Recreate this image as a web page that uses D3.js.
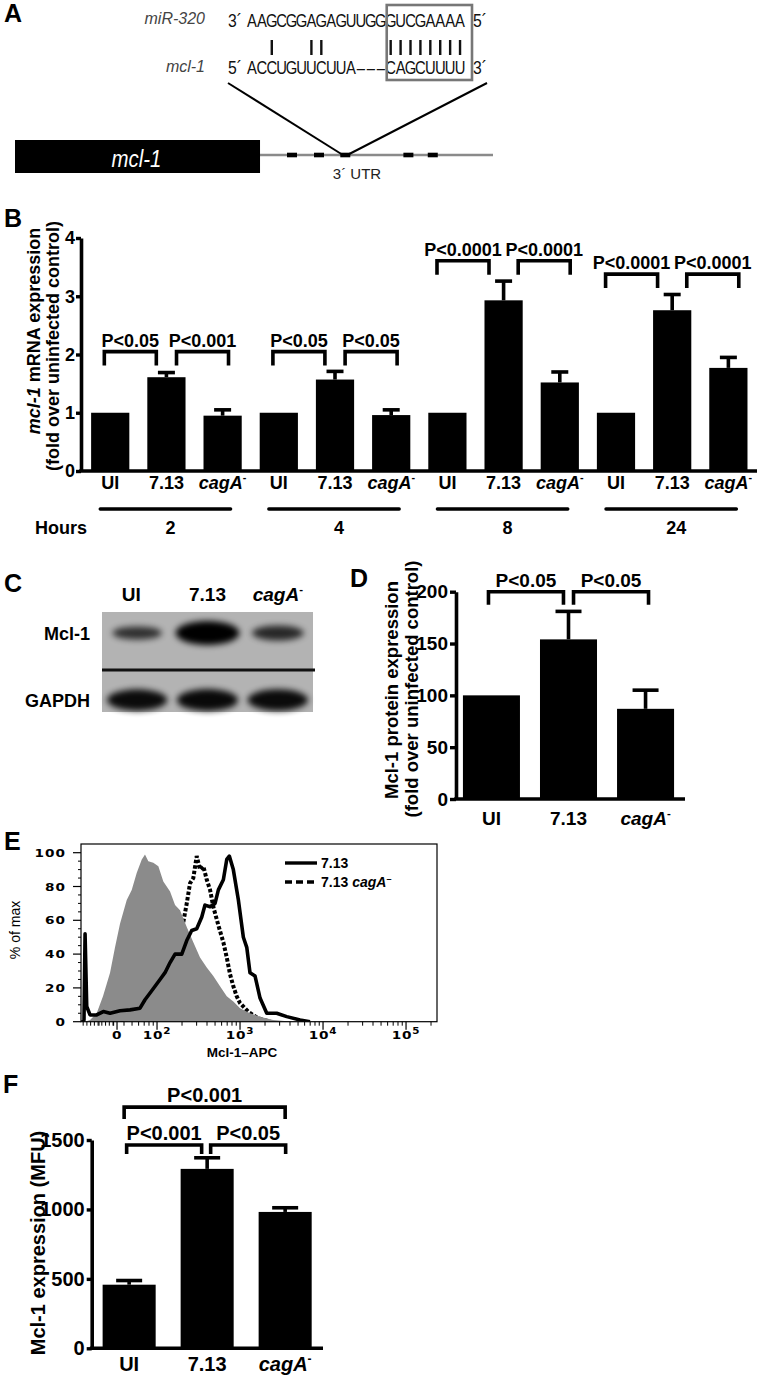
<!DOCTYPE html>
<html><head><meta charset="utf-8">
<script src="https://cdn.jsdelivr.net/npm/d3@7"></script>
<style>body{margin:0;background:#fff}svg{display:block}</style>
</head><body>
<svg id="fig" width="757" height="1376"></svg>
<script>
// ================= DATA =================
// Panel A
const mirSeq = "AAGCGGAGAGUUGGGUCGAAAA".split("");
const mclSeq = "ACCUGUUCUUA–––CAGCUUUU".split("");
const pairIdx = [2, 6, 7, 14, 15, 16, 17, 18, 19, 20, 21];
const seedRange = [14, 22];
const cdsEnd = 0.5126;
const utrSites = [0.5795, 0.636, 0.691, 0.823, 0.874];
const targetSite = 2;

// Panel B
const bHours = ["2", "4", "8", "24"];
const strains = ["UI", "7.13", "cagA"];
const bMeans = [[1, 1.61, 0.95], [1, 1.57, 0.96], [1, 2.93, 1.52], [1, 2.76, 1.77]];
const bErrs = [[0, 0.08, 0.10], [0, 0.14, 0.09], [0, 0.33, 0.18], [0, 0.27, 0.18]];
const bPvals = [["P<0.05", "P<0.001"], ["P<0.05", "P<0.05"], ["P<0.0001", "P<0.0001"], ["P<0.0001", "P<0.0001"]];
const bBracketLevels = [2.05, 2.05, 3.61, 3.38];
const bTicks = [0, 1, 2, 3, 4];

// Panel C
const blotRows = ["Mcl-1", "GAPDH"];
const mclIntensity = [0.4, 1.0, 0.5];
const gapdhIntensity = [0.85, 0.88, 0.86];

// Panel D
const dMeans = [100, 154, 87];
const dErrs = [0, 27, 18];
const dPvals = ["P<0.05", "P<0.05"];
const dBracketLevel = 200;
const dTicks = [0, 50, 100, 150, 200];

// Panel E (x in display decades, y in % of max)
const grayX = [1.13, 1.193, 1.273, 1.349, 1.434, 1.494, 1.554, 1.635, 1.695, 1.755, 1.816, 1.855, 1.895, 1.955, 2.016, 2.076, 2.157, 2.217, 2.277, 2.358, 2.437, 2.518, 2.599, 2.678, 2.759, 2.840, 2.919, 3.000, 3.120, 3.241, 3.398, 3.639];
const grayY = [0, 1, 5, 15, 29, 44, 58, 72, 78, 88, 96, 99, 95, 94, 92, 83, 77, 69, 66, 56, 47, 38, 32, 27, 21, 15, 12, 8, 5, 3, 1, 0];
const solidX = [1.10, 1.120, 1.133, 1.153, 1.193, 1.273, 1.353, 1.434, 1.554, 1.675, 1.795, 1.855, 1.916, 1.976, 2.036, 2.096, 2.157, 2.217, 2.298, 2.358, 2.418, 2.478, 2.539, 2.578, 2.639, 2.699, 2.739, 2.799, 2.840, 2.871, 2.919, 2.980, 3.040, 3.081, 3.120, 3.181, 3.241, 3.322, 3.442, 3.563, 3.723, 3.843];
const solidY = [0, 1, 52, 9, 4, 4, 6, 5, 6.5, 7, 8, 13, 17, 21, 25, 29, 35, 40, 40, 48, 54, 55, 62, 69, 68, 70, 78, 84, 96, 98, 90, 72, 50, 44, 29, 27, 14, 5, 5, 3, 1, 0];
const dashX = [1.554, 1.735, 1.916, 2.060, 2.181, 2.277, 2.317, 2.358, 2.398, 2.437, 2.478, 2.518, 2.558, 2.599, 2.639, 2.678, 2.739, 2.799, 2.840, 2.880, 2.919, 2.960, 3.000, 3.096, 3.217, 3.361];
const dashY = [0, 3, 8, 18, 32, 47, 59, 70, 82, 85, 98, 90, 92, 84, 78, 68, 57, 47, 38, 28, 21, 15, 11, 6, 2, 0];
const eMajor = [{d: 1.518, base: "0", sup: ""}, {d: 2, base: "10", sup: "2"}, {d: 3, base: "10", sup: "3"}, {d: 4, base: "10", sup: "4"}, {d: 5, base: "10", sup: "5"}];
const eTicksY = [0, 20, 40, 60, 80, 100];
const eLegend = ["7.13", "7.13 cagA"];

// Panel F
const fMeans = [458, 1292, 982];
const fErrs = [30, 80, 30];
const fPvals = ["P<0.001", "P<0.05", "P<0.001"];
const fBracketLevels = [1464, 1737];
const fTicks = [0, 500, 1000, 1500];

// ================= DRAWING =================
const FF = '"Liberation Sans", Arial, Helvetica, sans-serif';
const svg = d3.select("#fig");
svg.append("rect").attr("width", 757).attr("height", 1376).attr("fill", "#fff");
const defs = svg.append("defs");
defs.append("filter").attr("id", "blur").attr("x", "-50%").attr("y", "-100%").attr("width", "200%").attr("height", "300%")
  .append("feGaussianBlur").attr("stdDeviation", 3);

function txt(g, x, y, s, o = {}) {
  const t = g.append("text").attr("x", x).attr("y", y).text(s)
    .attr("font-family", o.ff || FF).attr("font-size", o.fs || 18).attr("font-weight", o.fw || "bold")
    .attr("text-anchor", o.anchor || "start").attr("fill", o.fill || "#000");
  if (o.italic) t.attr("font-style", "italic");
  return t;
}
function strainLabel(g, x, y, s, fs) {
  if (s !== "cagA") return txt(g, x, y, s, {fs, anchor: "middle"});
  const t = g.append("text").attr("x", x).attr("y", y).attr("text-anchor", "middle")
    .attr("font-family", FF).attr("font-size", fs).attr("font-weight", "bold");
  t.append("tspan").attr("font-style", "italic").text("cagA");
  t.append("tspan").attr("dy", -fs * 0.42).attr("font-size", fs * 0.6).text("-");
  return t;
}
function bracket(g, x1, x2, yTop, leg, label, fs) {
  g.append("path").attr("d", `M${x1},${yTop + leg}V${yTop}H${x2}V${yTop + leg}`)
    .attr("fill", "none").attr("stroke", "#000").attr("stroke-width", 3.6);
  txt(g, (x1 + x2) / 2, yTop - 5, label, {fs, anchor: "middle"});
}
function yAxis(g, y, x, ticks, fs, size, pad) {
  const ax = d3.axisLeft(y).tickValues(ticks).tickFormat(d3.format("d")).tickSize(size).tickSizeOuter(0).tickPadding(pad);
  g.append("g").attr("transform", `translate(${x},0)`).call(ax)
    .attr("font-family", FF).attr("font-size", fs).attr("font-weight", "bold")
    .call(s => {
      s.select(".domain").attr("stroke-width", 3.6).attr("stroke", "#000");
      s.selectAll(".tick line").attr("stroke-width", 3.4).attr("stroke", "#000");
      s.selectAll(".tick text").attr("fill", "#000");
    });
}
function errBars(g, data, cx, y, capW) {
  const e = data.filter(d => d.e > 0);
  g.selectAll(null).data(e).join("line")
    .attr("x1", cx).attr("x2", cx).attr("y1", d => y(d.v)).attr("y2", d => y(d.v + d.e))
    .attr("stroke", "#000").attr("stroke-width", 3.6);
  g.selectAll(null).data(e).join("line")
    .attr("x1", d => cx(d) - capW / 2).attr("x2", d => cx(d) + capW / 2)
    .attr("y1", d => y(d.v + d.e)).attr("y2", d => y(d.v + d.e))
    .attr("stroke", "#000").attr("stroke-width", 3.6);
}

// Panel letters
[["A", 4, 22], ["B", 4, 227], ["C", 4, 592], ["D", 350, 587], ["E", 4, 850], ["F", 3, 1093]]
  .forEach(([l, x, y]) => txt(svg, x, y, l, {fs: 25}));

// ---------- Panel A ----------
{
  const g = svg.append("g");
  const xSeq = d3.scaleLinear().domain([0, 22]).range([247, 465]);
  const rowY = [27, 74];
  const sfs = 18.5;
  [mirSeq, mclSeq].forEach((seq, r) => {
    g.selectAll(null).data(seq).join("text")
      .attr("transform", (c, i) => `translate(${xSeq(i + 0.5)},${rowY[r]}) scale(0.8,1)`)
      .attr("text-anchor", "middle").attr("font-family", FF).attr("font-size", sfs).attr("fill", "#111")
      .text(c => c);
  });
  const ends = [["3´", "5´"], ["5´", "3´"]];
  ends.forEach(([a, b], r) => {
    g.append("text").attr("transform", `translate(${xSeq(0) - 19},${rowY[r]}) scale(0.85,1)`)
      .attr("font-family", FF).attr("font-size", sfs).attr("fill", "#111").text(a);
    g.append("text").attr("transform", `translate(${xSeq(22) + 8},${rowY[r]}) scale(0.85,1)`)
      .attr("font-family", FF).attr("font-size", sfs).attr("fill", "#111").text(b);
  });
  txt(g, 205, 24, "miR-320", {fs: 16, fw: "normal", italic: true, anchor: "end", fill: "#444"});
  txt(g, 205, 72, "mcl-1", {fs: 16, fw: "normal", italic: true, anchor: "end", fill: "#444"});
  g.selectAll(null).data(pairIdx).join("line")
    .attr("x1", i => xSeq(i + 0.5)).attr("x2", i => xSeq(i + 0.5)).attr("y1", 40).attr("y2", 55)
    .attr("stroke", "#111").attr("stroke-width", 2.4);
  g.append("rect").attr("x", xSeq(seedRange[0]) + 1).attr("y", 5)
    .attr("width", xSeq(seedRange[1]) + 7 - xSeq(seedRange[0]) - 1).attr("height", 75)
    .attr("fill", "none").attr("stroke", "#777").attr("stroke-width", 2.6);

  const xGene = d3.scaleLinear().domain([0, 1]).range([15, 493]);
  const siteW = 10;
  g.append("line").attr("x1", xGene(cdsEnd)).attr("x2", xGene(1)).attr("y1", 155).attr("y2", 155)
    .attr("stroke", "#8a8a8a").attr("stroke-width", 2.6);
  g.append("rect").attr("x", xGene(0)).attr("y", 140).attr("width", xGene(cdsEnd) - xGene(0)).attr("height", 33).attr("fill", "#000");
  g.append("text").attr("transform", `translate(${(xGene(0) + xGene(cdsEnd)) / 2 - 1},167) scale(0.85,1)`)
    .attr("text-anchor", "middle").attr("font-family", FF).attr("font-size", 24).attr("font-style", "italic")
    .attr("fill", "#fff").text("mcl-1");
  g.selectAll(null).data(utrSites).join("rect")
    .attr("x", d => xGene(d) - siteW / 2).attr("y", 152.7).attr("width", siteW).attr("height", 4.6).attr("fill", "#000");
  const ts = xGene(utrSites[targetSite]);
  g.append("line").attr("x1", xSeq(0) - 19).attr("y1", 83).attr("x2", ts - 4).attr("y2", 154).attr("stroke", "#000").attr("stroke-width", 2);
  g.append("line").attr("x1", xSeq(22) + 22).attr("y1", 83).attr("x2", ts + 4).attr("y2", 154).attr("stroke", "#000").attr("stroke-width", 2);
  txt(g, 357, 179, "3´ UTR", {fs: 15, fw: "normal", anchor: "middle", fill: "#222"});
}

// ---------- Panel B ----------
{
  const g = svg.append("g");
  const keys = bHours.flatMap(h => strains.map(s => h + "|" + s));
  const x = d3.scaleBand().domain(keys).range([81, 757.6]).paddingInner(0.32).paddingOuter(0.18);
  const y = d3.scaleLinear().domain([0, 4]).range([471, 238]);
  const bw = x.bandwidth();
  const data = bHours.flatMap((h, i) => strains.map((s, j) => ({key: h + "|" + s, h, s, v: bMeans[i][j], e: bErrs[i][j]})));
  const cx = d => x(d.key) + bw / 2;
  g.selectAll(null).data(data).join("rect")
    .attr("x", d => x(d.key)).attr("y", d => y(d.v)).attr("width", bw).attr("height", d => y(0) - y(d.v)).attr("fill", "#000");
  errBars(g, data, cx, y, 17);
  yAxis(g, y, 81, bTicks, 18, 5, 1);
  g.append("line").attr("x1", 79.2).attr("x2", 757).attr("y1", y(0)).attr("y2", y(0)).attr("stroke", "#000").attr("stroke-width", 3.6);
  data.forEach(d => strainLabel(g, cx(d), 489, d.s, 18));
  bHours.forEach((h, i) => {
    const c = s => x(h + "|" + s) + bw / 2;
    const shift = bPvals[i][0].length > 6 ? 12.5 : 8;
    const m1 = (c("UI") + c("7.13")) / 2 - shift, m2 = (c("7.13") + c("cagA")) / 2 + shift;
    const yt = y(bBracketLevels[i]);
    bracket(g, m1 - 26, m1 + 26, yt, 14, bPvals[i][0], 18);
    bracket(g, m2 - 26, m2 + 26, yt, 14, bPvals[i][1], 18);
    g.append("line").attr("x1", c("UI") - 10).attr("x2", c("cagA") + 8).attr("y1", 509).attr("y2", 509)
      .attr("stroke", "#000").attr("stroke-width", 3.4).attr("stroke-linecap", "round");
    txt(g, c("7.13") + 4, 534, h, {fs: 18, anchor: "middle"});
  });
  txt(g, 35, 534, "Hours", {fs: 18});
  const l1 = g.append("text").attr("transform", "translate(40,331) rotate(-90)").attr("text-anchor", "middle")
    .attr("font-family", FF).attr("font-size", 18).attr("font-weight", "bold");
  l1.append("tspan").attr("font-style", "italic").text("mcl-1");
  l1.append("tspan").text(" mRNA expression");
  g.append("text").attr("transform", "translate(59,346) rotate(-90)").attr("text-anchor", "middle")
    .attr("font-family", FF).attr("font-size", 18).attr("font-weight", "bold").text("(fold over uninfected control)");
}

// ---------- Panel C ----------
{
  const g = svg.append("g");
  const x = d3.scaleBand().domain(strains).range([102, 313]);
  const c = s => x(s) + x.bandwidth() / 2;
  g.append("rect").attr("x", 102).attr("y", 612).attr("width", 211).attr("height", 100).attr("fill", "#b3b3b3");
  const rowsY = [633, 700];
  [mclIntensity, gapdhIntensity].forEach((arr, r) => {
    g.selectAll(null).data(strains).join("ellipse")
      .attr("cx", s => c(s)).attr("cy", rowsY[r])
      .attr("rx", (s, i) => 20 + 12 * arr[i]).attr("ry", (s, i) => 3 + 9 * arr[i])
      .attr("fill", "#000").attr("opacity", (s, i) => 0.55 + 0.45 * arr[i]).attr("filter", "url(#blur)");
  });
  g.append("line").attr("x1", 102).attr("x2", 315).attr("y1", 670).attr("y2", 670).attr("stroke", "#111").attr("stroke-width", 3);
  strains.forEach(s => strainLabel(g, c(s) - (s === "UI" ? 6 : 0), 601, s, 19));
  blotRows.forEach((r, i) => txt(g, 90, rowsY[i] + 7, r, {fs: 18, anchor: "end"}));
}

// ---------- Panel D ----------
{
  const g = svg.append("g");
  const x = d3.scaleBand().domain(strains).range([456, 681]).paddingInner(0.26).paddingOuter(0.09);
  const y = d3.scaleLinear().domain([0, 200]).range([799, 591.7]);
  const bw = x.bandwidth();
  const data = strains.map((s, i) => ({s, v: dMeans[i], e: dErrs[i]}));
  const cx = d => x(d.s) + bw / 2;
  g.selectAll(null).data(data).join("rect")
    .attr("x", d => x(d.s)).attr("y", d => y(d.v)).attr("width", bw).attr("height", d => y(0) - y(d.v)).attr("fill", "#000");
  errBars(g, data, cx, y, 26);
  yAxis(g, y, 456, dTicks, 19, 6, 2);
  g.append("line").attr("x1", 454.2).attr("x2", 685).attr("y1", y(0)).attr("y2", y(0)).attr("stroke", "#000").attr("stroke-width", 3.6);
  data.forEach(d => strainLabel(g, cx(d), 825, d.s, 19));
  const c = i => cx(data[i]);
  const m1 = (c(0) + c(1)) / 2 - 4, m2 = (c(1) + c(2)) / 2 + 4;
  bracket(g, m1 - 37.5, m1 + 37.5, y(dBracketLevel), 13, dPvals[0], 19);
  bracket(g, m2 - 37.5, m2 + 37.5, y(dBracketLevel), 13, dPvals[1], 19);
  g.append("text").attr("transform", "translate(398,690) rotate(-90)").attr("text-anchor", "middle")
    .attr("font-family", FF).attr("font-size", 18.5).attr("font-weight", "bold").text("Mcl-1 protein expression");
  g.append("text").attr("transform", "translate(418,689) rotate(-90)").attr("text-anchor", "middle")
    .attr("font-family", FF).attr("font-size", 18.5).attr("font-weight", "bold").text("(fold over uninfected control)");
}

// ---------- Panel E ----------
{
  const g = svg.append("g");
  const x = d3.scaleLinear().domain([1.084, 5.373]).range([81, 437]);
  const y = d3.scaleLinear().domain([0, 100]).range([1021.7, 852.7]);
  const top = 844;
  g.append("clipPath").attr("id", "clipE").append("rect").attr("x", 81).attr("y", top).attr("width", 356).attr("height", y(0) - top);
  const p = g.append("g").attr("clip-path", "url(#clipE)");
  const pts = (xs, ys) => xs.map((v, i) => [v, ys[i]]);
  const line = d3.line().x(d => x(d[0])).y(d => y(d[1]));
  const area = d3.area().x(d => x(d[0])).y0(y(0)).y1(d => y(d[1]));
  p.append("path").attr("d", line(pts(dashX, dashY))).attr("fill", "none").attr("stroke", "#000")
    .attr("stroke-width", 4).attr("stroke-dasharray", "3.5 2");
  p.append("path").attr("d", area(pts(grayX, grayY))).attr("fill", "#8b8b8b");
  p.append("path").attr("d", line(pts(solidX, solidY))).attr("fill", "none").attr("stroke", "#000")
    .attr("stroke-width", 3.6).attr("stroke-linejoin", "round");
  g.append("rect").attr("x", 81).attr("y", top).attr("width", 356).attr("height", y(0) - top)
    .attr("fill", "none").attr("stroke", "#000").attr("stroke-width", 1.2);
  // y ticks
  const minorY = d3.range(0, 101, 5).filter(v => v % 20 !== 0);
  g.selectAll(null).data(eTicksY).join("line").attr("x1", 73).attr("x2", 81).attr("y1", y).attr("y2", y).attr("stroke", "#000").attr("stroke-width", 1.2);
  g.selectAll(null).data(minorY).join("line").attr("x1", 78).attr("x2", 81).attr("y1", y).attr("y2", y).attr("stroke", "#000").attr("stroke-width", 1);
  g.selectAll(null).data(eTicksY).join("text")
    .attr("transform", v => `translate(66,${y(v) + 4}) scale(1.3,1)`).attr("text-anchor", "end")
    .attr("font-family", "DejaVu Sans").attr("font-weight", "bold").attr("font-size", 10.5).attr("letter-spacing", 0.8).text(v => v);
  // x ticks
  const minorX = [];
  for (let k = 1; k <= 5; k++) for (let m = 2; m <= 9; m++) minorX.push(k + Math.log10(m));
  d3.range(1.11, 1.5, 0.045).forEach(v => minorX.push(v));
  const mx = minorX.filter(v => v > 1.09 && v < 5.37);
  g.selectAll(null).data(mx).join("line").attr("x1", x).attr("x2", x).attr("y1", y(0)).attr("y2", y(0) + 4).attr("stroke", "#000").attr("stroke-width", 1);
  g.selectAll(null).data(eMajor).join("line").attr("x1", d => x(d.d)).attr("x2", d => x(d.d)).attr("y1", y(0)).attr("y2", y(0) + 8).attr("stroke", "#000").attr("stroke-width", 1.2);
  eMajor.forEach(d => {
    const t = g.append("text").attr("transform", `translate(${x(d.d)},1039) scale(1.3,1)`).attr("text-anchor", "middle")
      .attr("font-family", "DejaVu Sans").attr("font-weight", "bold").attr("font-size", 10.5).attr("letter-spacing", 0.6);
    t.append("tspan").text(d.base);
    if (d.sup) t.append("tspan").attr("dy", -5).attr("font-size", 8).text(d.sup);
  });
  txt(g, 242, 1057, "Mcl-1–APC", {fs: 13.5, anchor: "middle"});
  g.append("text").attr("transform", "translate(20,930) rotate(-90)").attr("text-anchor", "middle")
    .attr("font-family", FF).attr("font-size", 14).text("% of max");
  // legend
  const ly = [863, 882];
  g.append("line").attr("x1", 285).attr("x2", 317).attr("y1", ly[0]).attr("y2", ly[0]).attr("stroke", "#000").attr("stroke-width", 3.4);
  g.append("line").attr("x1", 285).attr("x2", 317).attr("y1", ly[1]).attr("y2", ly[1]).attr("stroke", "#000").attr("stroke-width", 3.4).attr("stroke-dasharray", "7 4");
  txt(g, 321, ly[0] + 5, eLegend[0], {fs: 14});
  const lt = g.append("text").attr("x", 321).attr("y", ly[1] + 5).attr("font-family", FF).attr("font-size", 14).attr("font-weight", "bold");
  lt.append("tspan").text(eLegend[1].split(" ")[0] + " ");
  lt.append("tspan").attr("font-style", "italic").text(eLegend[1].split(" ")[1]);
  lt.append("tspan").attr("dy", -5).attr("font-size", 9).text("–");
}

// ---------- Panel F ----------
{
  const g = svg.append("g");
  const x = d3.scaleBand().domain(strains).range([91.7, 322.6]).paddingInner(0.32).paddingOuter(0.14);
  const y = d3.scaleLinear().domain([0, 1500]).range([1348.3, 1140]);
  const bw = x.bandwidth();
  const data = strains.map((s, i) => ({s, v: fMeans[i], e: fErrs[i]}));
  const cx = d => x(d.s) + bw / 2;
  g.selectAll(null).data(data).join("rect")
    .attr("x", d => x(d.s)).attr("y", d => y(d.v)).attr("width", bw).attr("height", d => y(0) - y(d.v)).attr("fill", "#000");
  errBars(g, data, cx, y, 26);
  yAxis(g, y, 91.7, fTicks, 20, 5, 2);
  g.append("line").attr("x1", 89.9).attr("x2", 323).attr("y1", y(0)).attr("y2", y(0)).attr("stroke", "#000").attr("stroke-width", 3.6);
  data.forEach(d => strainLabel(g, cx(d), 1371, d.s, 20));
  const c = i => cx(data[i]);
  const m1 = (c(0) + c(1)) / 2 - 4, m2 = (c(1) + c(2)) / 2 + 2;
  bracket(g, m1 - 37.5, m1 + 37.5, y(fBracketLevels[0]), 9, fPvals[0], 20);
  bracket(g, m2 - 37.5, m2 + 37.5, y(fBracketLevels[0]), 9, fPvals[1], 20);
  bracket(g, c(0) - 5, c(2), y(fBracketLevels[1]), 12, fPvals[2], 20);
  g.append("text").attr("transform", "translate(45,1243) rotate(-90)").attr("text-anchor", "middle")
    .attr("font-family", FF).attr("font-size", 20).attr("font-weight", "bold").text("Mcl-1 expression (MFU)");
}
</script>
</body></html>
